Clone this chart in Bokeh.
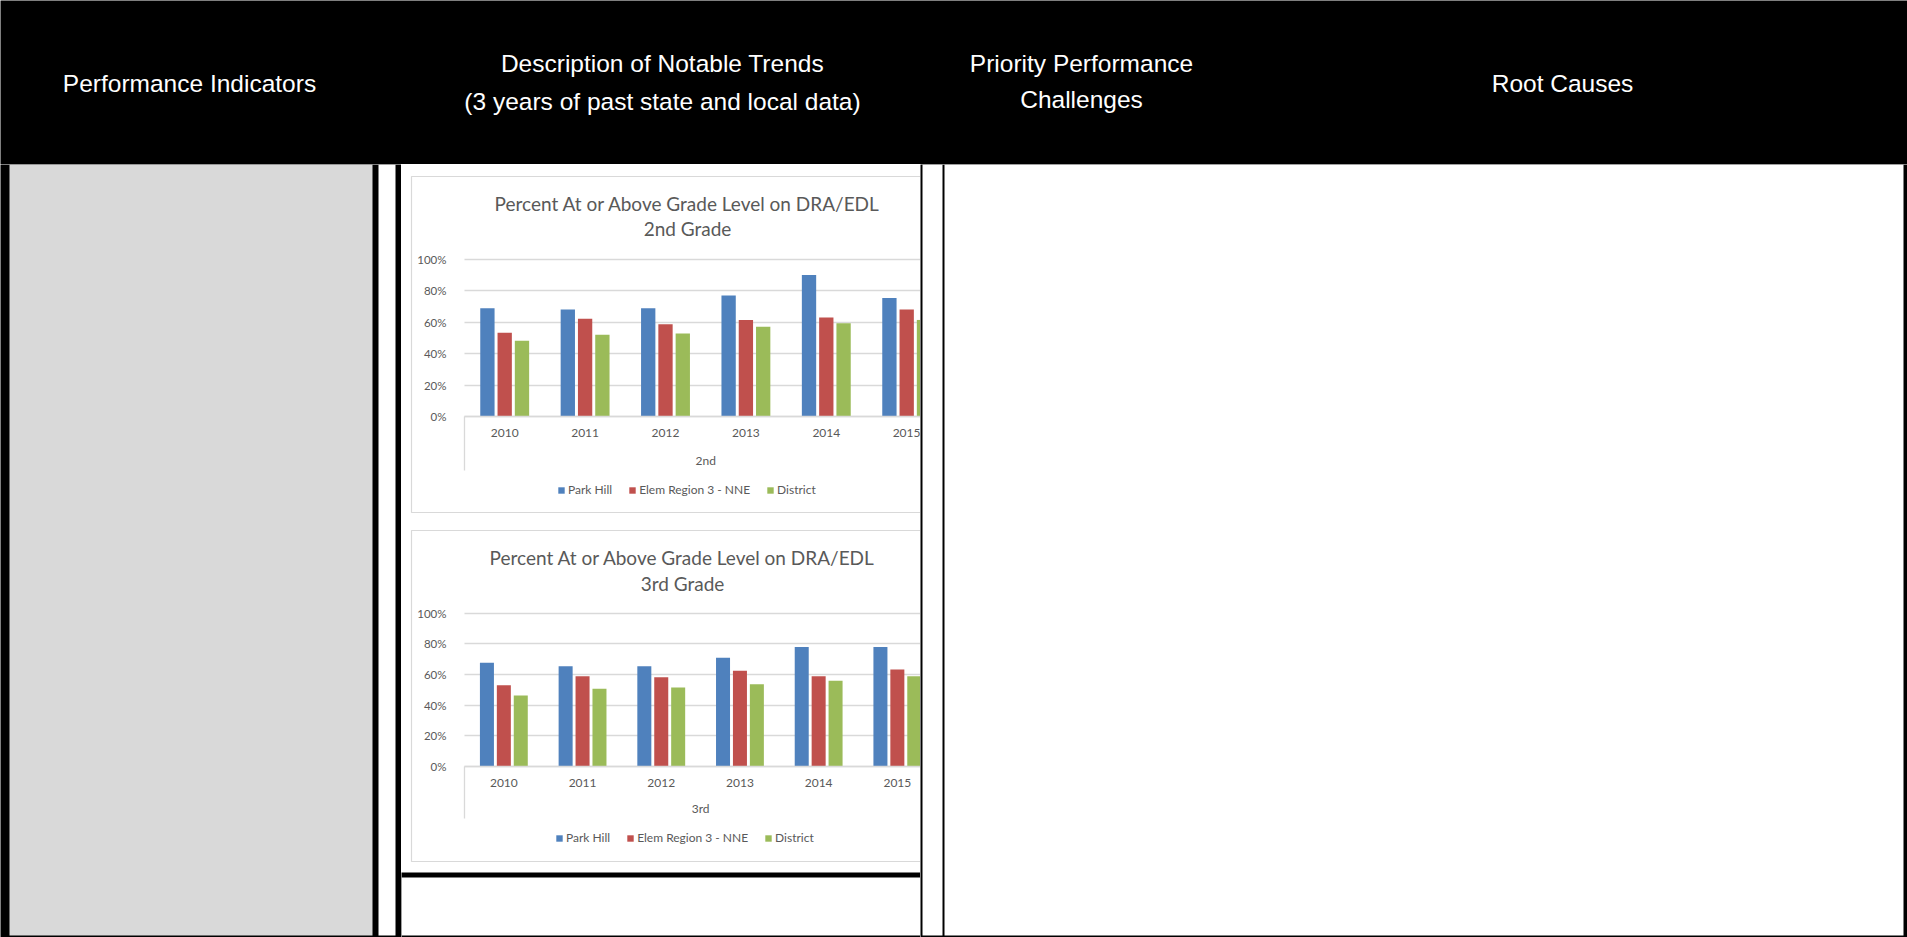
import numpy as np
from bokeh.plotting import figure
from bokeh.layouts import column, row
from bokeh.models import (LinearAxis, FixedTicker, Grid, Label, Legend,
                          LegendItem, ColumnDataSource)
from bokeh.core.properties import value
from bokeh.embed import file_html
from bokeh.resources import INLINE

# ---------------- data ----------------
years = ["2010", "2011", "2012", "2013", "2014", "2015"]
series_names = ["Park Hill", "Elem Region 3 - NNE", "District"]
series_colors = ["#4F81BD", "#C0504D", "#9BBB59"]

grade2_park_hill = [68.9, 68.1, 68.9, 77.0, 90.2, 75.5]
grade2_region3_nne = [53.4, 62.3, 58.7, 61.5, 63.0, 68.1]
grade2_district = [48.3, 52.1, 52.8, 57.2, 59.4, 61.5]

grade3_park_hill = [67.6, 65.4, 65.4, 70.9, 78.0, 78.0]
grade3_region3_nne = [53.0, 58.9, 58.3, 62.4, 58.9, 63.3]
grade3_district = [46.3, 50.7, 51.5, 53.7, 55.9, 58.9]

pct_ticks = [0, 20, 40, 60, 80, 100]
pct_tick_labels = ["0%", "20%", "40%", "60%", "80%", "100%"]

chart_title = "Percent At or Above Grade Level on DRA/EDL"
grade2_subtitle = "2nd Grade"
grade3_subtitle = "3rd Grade"
grade2_group = "2nd"
grade3_group = "3rd"

header_texts = ["Performance Indicators",
                "Description of Notable Trends",
                "(3 years of past state and local data)",
                "Priority Performance",
                "Challenges",
                "Root Causes"]

# ---------------- styling ----------------
HFONT = "Liberation Sans"
CFONT = "Lato"
GRAY_TXT = "#595959"
GRID = "#d9d9d9"


def blank(width, height, bg="black"):
    p = figure(width=width, height=height, x_range=(0, width), y_range=(height, 0),
               x_axis_type=None, y_axis_type=None, toolbar_location=None,
               output_backend="svg", min_border=0, outline_line_color=None,
               background_fill_color=bg, border_fill_color=bg)
    return p


def make_chart(W, H, cat_px, axis_lx, base_ly, px_pct, title_ly, title_cx,
               subtitle, group_label, group_ly, ext_ly, legend_lx, legend_cy,
               border_top, border_bottom, vals):
    x0 = -axis_lx / cat_px
    x1 = (W - axis_lx) / cat_px
    y1 = base_ly / px_pct
    y0 = -(H - base_ly) / px_pct

    def X(lx):
        return x0 + lx / cat_px

    def Y(ly):
        return y1 - ly / px_pct

    p = figure(width=W, height=H, x_range=(x0, x1), y_range=(y0, y1),
               x_axis_type=None, y_axis_type=None, toolbar_location=None,
               output_backend="svg", min_border=0, outline_line_color=None,
               background_fill_color="white", border_fill_color="white")

    # chart area border (clipped on the right like the source image)
    p.line(x=[X(W + 20), X(10), X(10), X(W + 20)],
           y=[Y(border_top), Y(border_top), Y(border_bottom), Y(border_bottom)],
           line_color=GRID, line_width=1.2)

    # horizontal grid
    g = Grid(dimension=1, ticker=FixedTicker(ticks=pct_ticks),
             grid_line_color=GRID, grid_line_width=1.3)
    if "cross_bounds" in Grid.properties():
        g.cross_bounds = (0, len(years) + 1)
        p.add_layout(g)
    else:
        p.segment(x0=[0] * len(pct_ticks), y0=pct_ticks,
                  x1=[len(years) + 1] * len(pct_ticks), y1=pct_ticks,
                  line_color=GRID, line_width=1.3, level="underlay")

    centers = np.arange(len(years)) + 0.5
    offsets = [-0.215, 0.0, 0.215]
    items = []
    for k, (name, col, v) in enumerate(zip(series_names, series_colors, vals)):
        src = ColumnDataSource(dict(x=centers + offsets[k], top=v, year=years))
        r = p.vbar(x="x", top="top", bottom=0, width=0.178, source=src,
                   fill_color=col, line_color=None)
        items.append(LegendItem(label=name, renderers=[r]))

    # multi-level category axis separator line
    p.segment(x0=[0], y0=[0], x1=[0], y1=[Y(ext_ly)], line_color=GRID, line_width=1.3)

    xax = LinearAxis(fixed_location=0,
                     ticker=FixedTicker(ticks=list(centers)),
                     major_label_overrides={float(c): y for c, y in zip(centers, years)},
                     bounds=(0, len(years)),
                     axis_line_color=GRID, axis_line_width=1.3,
                     major_tick_line_color=None, minor_tick_line_color=None,
                     major_label_text_font=CFONT, major_label_text_font_size="12px",
                     major_label_text_color=GRAY_TXT, major_label_standoff=6)
    p.add_layout(xax, "below")

    yax = LinearAxis(fixed_location=0,
                     ticker=FixedTicker(ticks=pct_ticks),
                     major_label_overrides={t: l for t, l in zip(pct_ticks, pct_tick_labels)},
                     axis_line_color=None, major_tick_line_color=None,
                     minor_tick_line_color=None,
                     major_label_text_font=CFONT, major_label_text_font_size="11.5px",
                     major_label_text_color=GRAY_TXT, major_label_standoff=12)
    p.add_layout(yax, "left")

    for txt, ly in zip([chart_title, subtitle], title_ly):
        p.add_layout(Label(x=X(title_cx), y=Y(ly), text=txt, text_align="center",
                           text_baseline="middle", text_font=CFONT,
                           text_font_size="19px", text_color=GRAY_TXT))

    p.add_layout(Label(x=len(years) / 2, y=Y(group_ly), text=group_label,
                       text_align="center", text_baseline="middle",
                       text_font=CFONT, text_font_size="12px", text_color=GRAY_TXT))

    leg = Legend(items=items, orientation="horizontal",
                 location=(legend_lx, H - legend_cy - 7),
                 glyph_width=8, glyph_height=8, label_height=12,
                 label_standoff=3, spacing=16, padding=0, margin=0,
                 border_line_color=None, background_fill_alpha=0,
                 label_text_font=CFONT, label_text_font_size="12px",
                 label_text_color=GRAY_TXT)
    p.add_layout(leg)
    return p


# ---------------- header ----------------
hdr = blank(1907, 164)
hdr.text(x=[189, 662, 662, 1081, 1081, 1562],
         y=[83, 63, 101, 63, 99, 83],
         text=header_texts, text_font=value(HFONT), text_font_size="24.5px",
         text_color="white", text_align="center", text_baseline="middle")

# ---------------- left columns ----------------
left = blank(401, 773)
left.quad(left=[9, 378], right=[372, 395], top=[0, 0], bottom=[771, 771],
          fill_color=["#d9d9d9", "white"], line_color=None)

# ---------------- charts ----------------
chart2 = make_chart(519, 356, 80.4, 63, 252, 1.57, [39, 64], 286, grade2_subtitle,
                    grade2_group, 296, 306, 156, 326, 12, 348,
                    [grade2_park_hill, grade2_region3_nne, grade2_district])
sep = blank(519, 2)
chart3 = make_chart(519, 350, 78.7, 63, 244, 1.533, [35, 61], 281, grade3_subtitle,
                    grade3_group, 286, 296, 154, 316, 8, 339,
                    [grade3_park_hill, grade3_region3_nne, grade3_district])
bottom = blank(519, 65)
bottom.quad(left=[0], right=[519], top=[5], bottom=[63], fill_color="white", line_color=None)

middle = column(chart2, sep, chart3, bottom, spacing=0)

# ---------------- right columns ----------------
right = blank(987, 773)
right.quad(left=[2, 24], right=[22, 983], top=[0, 0], bottom=[771, 771],
           fill_color="white", line_color=None)

body = row(left, middle, right, spacing=0)
page = column(hdr, body, spacing=0)

open("out.html", "w").write(file_html(page, INLINE))
